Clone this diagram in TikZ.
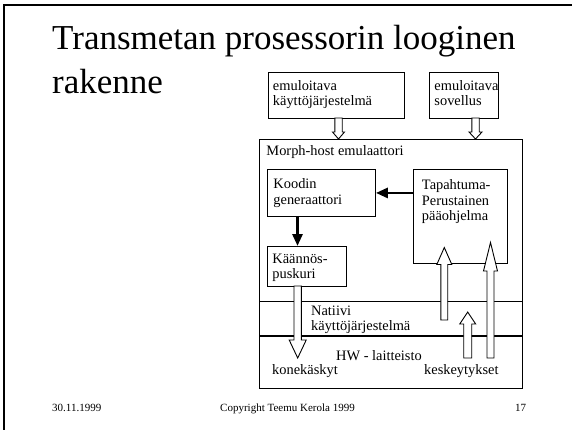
\documentclass[tikz,border=0pt]{standalone}
\usepackage{fontspec}
\setmainfont{Liberation Serif}
\usetikzlibrary{calc,arrows.meta}
\newcommand\bxt[5]{\parbox[c][#2][t]{#1}{\raggedright\leftskip=#3\relax\vspace*{#4}#5}}
\newcommand\hollowarr[5]{%
  \coordinate (hb) at ($(#2)!#5!(#1)$);
  \filldraw[harrow] ($(#1)!#3!90:(#2)$) -- ($(hb)!#3!-90:(#1)$) -- ($(hb)!#4!-90:(#1)$) -- (#2) -- ($(hb)!#4!90:(#1)$) -- ($(hb)!#3!90:(#1)$) -- ($(#1)!#3!-90:(#2)$) -- cycle;
}
\begin{document}
\begin{tikzpicture}[x=1pt,y=-1pt,
  txt/.style={font=\fontsize{14.4}{15.6}\selectfont, inner sep=0pt},
  bx/.style={txt, draw, line width=0.9pt, anchor=north west},
  lbl/.style={txt, anchor=base west},
  ttl/.style={anchor=base west, inner sep=0pt, font=\fontsize{35}{42}\selectfont},
  foot/.style={anchor=base west, inner sep=0pt, font=\fontsize{11}{13}\selectfont},
  harrow/.style={draw=black, fill=white, line width=0.9pt, line join=miter},
  thickarr/.style={line width=2.8pt, -{Triangle[length=12pt,width=10pt]}},
]
\useasboundingbox (0,0) rectangle (572,430);
\draw[line width=2.2pt] (4,430) -- (4,5) -- (572,5);
% title
\node[ttl] (t1) at (52,50) {Transmetan prosessorin looginen};
\node[ttl] (t2) at (52,94) {rakenne};
% footer
\node[foot] (date) at (52,411) {30.11.1999};
\node[foot] (copy) at (220,411) {Copyright Teemu Kerola 1999};
\node[foot] (page) at (515,411) {17};
% boxes
\node[bx] (outer) at (259,139) {\bxt{263pt}{249pt}{7pt}{6.3pt}{Morph-host emulaattori}};
\node[bx] (os) at (268,72) {\bxt{136pt}{46pt}{4.5pt}{7.6pt}{emuloitava\\käyttöjärjestelmä}};
\node[bx] (app) at (429,72) {\bxt{69pt}{46pt}{5pt}{7.6pt}{emuloitava\\sovellus}};
\node[bx] (koodin) at (267,169) {\bxt{108pt}{47pt}{6pt}{9.3pt}{Koodin\\generaattori}};
\node[bx] (tap) at (413,169) {\bxt{94pt}{94pt}{8.5pt}{10.3pt}{Tapahtuma-\\Perustainen\\pääohjelma}};
\node[bx] (kaan) at (267,246) {\bxt{79pt}{40pt}{5pt}{7.4pt}{Käännös-\\puskuri}};
% layer lines
\draw[line width=0.9pt] (outer.west |- 0,301) -- (outer.east |- 0,301);
\draw[line width=2pt] (outer.west |- 0,336) -- (outer.east |- 0,336);
% texts
\node[lbl] (nat) at (311,315) {\parbox[t]{130pt}{\raggedright Natiivi\\käyttöjärjestelmä}};
\node[lbl] (hw) at (336,360) {HW - laitteisto};
\node[lbl] (kone) at (272,374) {konekäskyt};
\node[lbl] (kesk) at (424,374) {keskeytykset};
% thick arrows
\draw[thickarr] (tap.west |- koodin.east) -- (koodin.east);
\coordinate (kd) at (297.5,216);
\draw[thickarr] (kd) -- (kd |- kaan.north);
% hollow arrows
\coordinate (a1s) at (338.5,118);
\coordinate (a1e) at (a1s |- outer.north);
\hollowarr{a1s}{a1e}{3.7pt}{6pt}{7pt}
\coordinate (a2s) at (475.5,118);
\coordinate (a2e) at (a2s |- outer.north);
\hollowarr{a2s}{a2e}{3.7pt}{6.5pt}{7pt}
\coordinate (a3s) at (297.7,286);
\coordinate (a3e) at (297.7,358);
\hollowarr{a3s}{a3e}{3.7pt}{8.5pt}{18pt}
\coordinate (a4s) at (444.3,320);
\coordinate (a4e) at (444.3,247.5);
\hollowarr{a4s}{a4e}{3.4pt}{7.5pt}{17pt}
\coordinate (a5s) at (490.5,358);
\coordinate (a5e) at (490.5,242.5);
\hollowarr{a5s}{a5e}{3.5pt}{7pt}{28.5pt}
\coordinate (a6s) at (467.7,358);
\coordinate (a6e) at (467.7,312);
\hollowarr{a6s}{a6e}{4pt}{8pt}{12pt}
\end{tikzpicture}
\end{document}
